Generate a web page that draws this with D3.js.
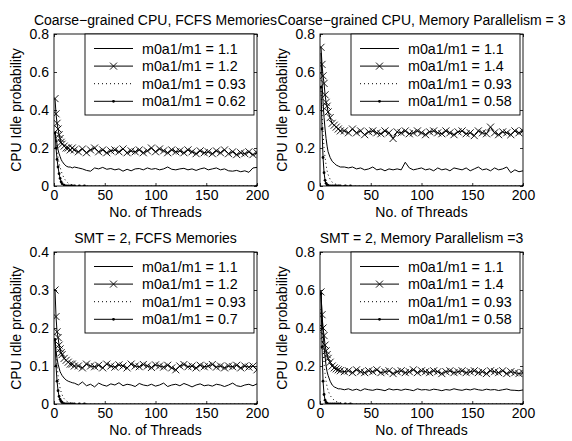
<!DOCTYPE html>
<html>
<head>
<meta charset="utf-8">
<script src="https://cdn.jsdelivr.net/npm/d3@7"></script>
<style>
body { margin: 0; background: #fff; }
text { font-family: "Liberation Sans", Arial, sans-serif; }
</style>
</head>
<body>
<svg id="chart" width="572" height="441"></svg>
<script>
// thread counts where the noisy curves were sampled
const threads = [1,2,3,4,5,6,7,8,10,12,14,16,18,20,
    24,28,32,36,40,44,48,52,56,60,64,68,72,76,80,
    84,88,92,96,100,104,108,112,116,120,124,128,132,136,140,
    144,148,152,156,160,164,168,172,176,180,184,188,192,196,200];
// the fast decaying curves only need a few points
const fastThreads = [1,2,3,4,5,6,7,8,10,12,14,16,18,20,25,30,200];

const xTicks = [0, 50, 100, 150, 200];

const titles = [
    "Coarse\u2212grained CPU, FCFS Memories",
    "Coarse\u2212grained CPU, Memory Parallelism = 3",
    "SMT = 2, FCFS Memories",
    "SMT = 2, Memory Parallelism =3"
];
const yMaxes = [0.8, 0.8, 0.4, 0.8];
const yTicks = [
    [0, 0.2, 0.4, 0.6, 0.8],
    [0, 0.2, 0.4, 0.6, 0.8],
    [0, 0.1, 0.2, 0.3, 0.4],
    [0, 0.2, 0.4, 0.6, 0.8]
];
const legendLabels = [
    ["m0a1/m1 = 1.1", "m0a1/m1 = 1.2", "m0a1/m1 = 0.93", "m0a1/m1 = 0.62"],
    ["m0a1/m1 = 1.1", "m0a1/m1 = 1.4", "m0a1/m1 = 0.93", "m0a1/m1 = 0.58"],
    ["m0a1/m1 = 1.1", "m0a1/m1 = 1.2", "m0a1/m1 = 0.93", "m0a1/m1 = 0.7"],
    ["m0a1/m1 = 1.1", "m0a1/m1 = 1.4", "m0a1/m1 = 0.93", "m0a1/m1 = 0.58"]
];

// top left: coarse grained, FCFS
const tlSolid = [0.28,0.25,0.22,0.19,0.17,0.155,0.14,0.13,0.115,0.105,0.1,0.1,0.095,0.1,
    0.095,0.09,0.082,0.078,0.095,0.09,0.098,0.088,0.092,0.085,0.09,0.078,0.088,0.08,0.09,
    0.092,0.085,0.095,0.088,0.092,0.085,0.09,0.1,0.088,0.085,0.09,0.093,0.085,0.09,0.082,
    0.09,0.095,0.085,0.09,0.095,0.085,0.09,0.08,0.078,0.082,0.075,0.08,0.072,0.095,0.098];
const tlCross = [0.46,0.38,0.33,0.3,0.27,0.25,0.23,0.22,0.21,0.2,0.2,0.19,0.2,0.19,
    0.18,0.195,0.175,0.19,0.2,0.18,0.19,0.175,0.185,0.19,0.18,0.195,0.175,0.185,0.18,
    0.19,0.175,0.185,0.2,0.18,0.195,0.185,0.175,0.19,0.18,0.185,0.175,0.19,0.18,0.17,
    0.185,0.175,0.18,0.17,0.185,0.175,0.19,0.17,0.18,0.165,0.175,0.17,0.18,0.165,0.175];
const tlDotted = [0.28,0.22,0.18,0.15,0.12,0.1,0.08,0.065,0.04,0.025,0.015,0.01,0.006,0.004,0.002,0,0];
const tlDot = [0.28,0.2,0.14,0.1,0.065,0.04,0.022,0.012,0.004,0.001,0,0,0,0,0,0,0];

// top right: coarse grained, memory parallelism 3
const trSolid = [0.7,0.55,0.44,0.36,0.3,0.25,0.21,0.18,0.15,0.13,0.12,0.11,0.105,0.1,
    0.1,0.095,0.1,0.09,0.095,0.085,0.09,0.1,0.085,0.09,0.08,0.09,0.085,0.09,0.085,
    0.125,0.095,0.085,0.09,0.095,0.085,0.09,0.08,0.095,0.085,0.09,0.08,0.095,0.09,0.085,
    0.095,0.08,0.09,0.1,0.085,0.09,0.08,0.095,0.085,0.09,0.1,0.07,0.085,0.075,0.08];
const trCross = [0.73,0.64,0.58,0.54,0.48,0.44,0.42,0.39,0.36,0.33,0.32,0.31,0.3,0.29,
    0.29,0.28,0.3,0.28,0.29,0.27,0.285,0.29,0.28,0.275,0.29,0.28,0.25,0.285,0.28,
    0.29,0.275,0.28,0.29,0.28,0.27,0.285,0.29,0.28,0.275,0.29,0.28,0.27,0.285,0.29,
    0.275,0.28,0.265,0.29,0.28,0.275,0.31,0.28,0.27,0.285,0.28,0.27,0.29,0.28,0.29];
const trDotted = [0.5,0.38,0.28,0.2,0.15,0.11,0.08,0.06,0.035,0.02,0.013,0.008,0.005,0.003,0.001,0,0];
const trDot = [0.52,0.3,0.15,0.07,0.03,0.014,0.006,0.003,0.001,0,0,0,0,0,0,0,0];

// bottom left: SMT 2, FCFS
const blSolid = [0.17,0.14,0.12,0.105,0.095,0.085,0.08,0.075,0.068,0.063,0.06,0.058,0.056,0.055,
    0.05,0.058,0.048,0.052,0.045,0.055,0.05,0.047,0.053,0.05,0.056,0.048,0.052,0.05,0.046,
    0.054,0.05,0.048,0.052,0.047,0.05,0.055,0.046,0.05,0.052,0.048,0.054,0.05,0.045,0.05,
    0.053,0.048,0.05,0.047,0.052,0.05,0.046,0.05,0.055,0.048,0.046,0.05,0.052,0.048,0.053];
const blCross = [0.3,0.23,0.19,0.175,0.155,0.145,0.135,0.13,0.12,0.115,0.11,0.105,0.105,0.1,
    0.1,0.095,0.105,0.1,0.098,0.102,0.095,0.105,0.1,0.097,0.103,0.1,0.095,0.105,0.1,
    0.098,0.104,0.1,0.096,0.103,0.1,0.097,0.102,0.095,0.09,0.1,0.104,0.098,0.1,0.095,
    0.102,0.098,0.1,0.104,0.097,0.1,0.095,0.1,0.098,0.102,0.095,0.1,0.097,0.1,0.09];
const blDotted = [0.17,0.13,0.1,0.075,0.055,0.042,0.032,0.024,0.014,0.008,0.005,0.003,0.002,0.001,0,0,0];
const blDot = [0.17,0.1,0.06,0.035,0.02,0.012,0.007,0.004,0.001,0,0,0,0,0,0,0,0];

// bottom right: SMT 2, memory parallelism 3
const brSolid = [0.58,0.47,0.38,0.3,0.25,0.2,0.17,0.15,0.12,0.1,0.09,0.085,0.08,0.08,
    0.075,0.08,0.072,0.078,0.07,0.08,0.075,0.072,0.078,0.075,0.07,0.08,0.074,0.077,0.072,
    0.078,0.075,0.07,0.08,0.074,0.076,0.072,0.078,0.075,0.07,0.076,0.073,0.08,0.075,0.072,
    0.078,0.074,0.08,0.075,0.072,0.078,0.074,0.076,0.071,0.075,0.079,0.073,0.072,0.07,0.074];
const brCross = [0.59,0.47,0.4,0.36,0.31,0.28,0.26,0.24,0.22,0.2,0.19,0.185,0.18,0.175,
    0.17,0.175,0.165,0.18,0.17,0.165,0.175,0.17,0.18,0.165,0.17,0.175,0.16,0.17,0.175,
    0.165,0.17,0.18,0.165,0.175,0.17,0.165,0.175,0.17,0.16,0.17,0.175,0.165,0.17,0.175,
    0.165,0.17,0.175,0.165,0.17,0.16,0.175,0.17,0.165,0.175,0.16,0.17,0.165,0.16,0.165];
const brDotted = [0.5,0.38,0.28,0.21,0.16,0.12,0.09,0.07,0.045,0.03,0.02,0.013,0.009,0.006,0.002,0,0];
const brDot = [0.58,0.3,0.12,0.05,0.02,0.008,0.003,0.001,0,0,0,0,0,0,0,0,0];

const FONT = 14;
const LEGEND_FONT = 14.3;
const BLACK = "#000";

// subplot boxes, [left, right, top, bottom]
const BOXES = [
    [54, 257, 34, 186],
    [320, 523, 34, 186],
    [54, 257, 252, 404],
    [320, 523, 252, 404]
];

var panels = [
    [tlSolid, tlCross, tlDotted, tlDot],
    [trSolid, trCross, trDotted, trDot],
    [blSolid, blCross, blDotted, blDot],
    [brSolid, brCross, brDotted, brDot]
].map((s, i)=>({
    title: titles[i],
    ymax: yMaxes[i],
    yticks: yTicks[i],
    labels: legendLabels[i],
    series: [
        {xs: threads, ys: s[0], kind: "solid"},
        {xs: threads, ys: s[1], kind: "cross"},
        {xs: fastThreads, ys: s[2], kind: "dotted"},
        {xs: fastThreads, ys: s[3], kind: "dot"}
    ],
    box: BOXES[i]
}));

function drawMarkers(g, pts, kind){
    if (kind == "cross"){
        g.selectAll("path.mk")
            .data(pts)
            .enter()
            .append("path")
            .attr("class", "mk")
            .attr("d", d=>"M" + (d[0]-3.5) + "," + (d[1]-3.5) + "l7,7m-7,0l7,-7")
            .attr("stroke", BLACK)
            .attr("stroke-width", 0.9)
            .attr("fill", "none");
    } else if (kind == "dot"){
        g.selectAll("circle.mk")
            .data(pts)
            .enter()
            .append("circle")
            .attr("class", "mk")
            .attr("cx", d=>d[0])
            .attr("cy", d=>d[1])
            .attr("r", 1.4)
            .attr("fill", BLACK);
    }
}

function styleLine(sel, kind){
    sel.attr("fill", "none")
        .attr("stroke", BLACK)
        .attr("stroke-width", 1);
    if (kind == "dotted") sel.attr("stroke-dasharray", "1,3");
}

function drawPanel(svg, p, idx){
    var [left, right, top, bottom] = p.box;
    var x = d3.scaleLinear().domain([0, 200]).range([left, right]);
    var y = d3.scaleLinear().domain([0, p.ymax]).range([bottom, top]);
    var g = svg.append("g");

    g.append("clipPath")
        .attr("id", "clip" + idx)
        .append("rect")
        .attr("x", left).attr("y", top)
        .attr("width", right - left).attr("height", bottom - top);

    // ticks point inward, like matlab
    var fmt = d3.format("~g");
    var axes = [
        [d3.axisBottom(x).tickValues(xTicks).tickFormat(fmt).tickPadding(4), "translate(0," + bottom + ")"],
        [d3.axisTop(x).tickValues(xTicks).tickFormat(""), "translate(0," + top + ")"],
        [d3.axisLeft(y).tickValues(p.yticks).tickFormat(fmt).tickPadding(5), "translate(" + left + ",0)"],
        [d3.axisRight(y).tickValues(p.yticks).tickFormat(""), "translate(" + right + ",0)"]
    ];
    axes.forEach(([ax, tr])=>{
        var a = g.append("g")
            .attr("transform", tr)
            .call(ax.tickSizeInner(-3).tickSizeOuter(0));
        a.select(".domain").remove();
        a.selectAll("line").attr("stroke", BLACK).attr("stroke-width", 0.8);
        a.selectAll("text")
            .attr("fill", BLACK)
            .style("font-size", FONT + "px")
            .style("font-family", "Liberation Sans, Arial, sans-serif");
    });

    var plot = g.append("g").attr("clip-path", "url(#clip" + idx + ")");
    var line = d3.line().x(d=>d[0]).y(d=>d[1]);
    p.series.forEach(s=>{
        var pts = s.xs.map((t, i)=>[x(t), y(s.ys[i])]);
        plot.append("path")
            .datum(pts)
            .attr("d", line)
            .call(styleLine, s.kind);
        drawMarkers(plot.append("g"), pts, s.kind);
    });

    g.append("rect")
        .attr("x", left).attr("y", top)
        .attr("width", right - left).attr("height", bottom - top)
        .attr("fill", "none")
        .attr("stroke", BLACK)
        .attr("stroke-width", 0.9);

    // legend in the top right corner
    var lw = 169, lh = 81;
    var lx = right - 3 - lw, ly = top;
    var leg = g.append("g").attr("transform", "translate(" + lx + "," + ly + ")");
    leg.append("rect")
        .attr("width", lw).attr("height", lh)
        .attr("fill", "#fff")
        .attr("stroke", BLACK)
        .attr("stroke-width", 0.9);
    p.series.forEach((s, i)=>{
        var cy = 14.5 + i * 17.6;
        var sample = [[9, cy], [48, cy]];
        leg.append("path")
            .datum(sample)
            .attr("d", line)
            .call(styleLine, s.kind);
        drawMarkers(leg.append("g"), [[28.5, cy]], s.kind);
        leg.append("text")
            .attr("x", 57)
            .attr("y", cy)
            .attr("dy", "0.35em")
            .style("font-size", LEGEND_FONT + "px")
            .text(p.labels[i]);
    });

    g.append("text")
        .attr("x", (left + right) / 2)
        .attr("y", top - 9)
        .attr("text-anchor", "middle")
        .style("font-size", FONT + "px")
        .text(p.title);

    g.append("text")
        .attr("x", (left + right) / 2)
        .attr("y", bottom + 31)
        .attr("text-anchor", "middle")
        .style("font-size", FONT + "px")
        .text("No. of Threads");

    g.append("text")
        .attr("transform", "translate(" + (left - 38) + "," + ((top + bottom) / 2) + ") rotate(-90)")
        .attr("dy", "0.35em")
        .attr("text-anchor", "middle")
        .style("font-size", FONT + "px")
        .text("CPU Idle probability");
}

function main(){
    var svg = d3.select("#chart");
    panels.forEach((p, i)=>drawPanel(svg, p, i));
}

window.addEventListener("load", main);
</script>
</body>
</html>
